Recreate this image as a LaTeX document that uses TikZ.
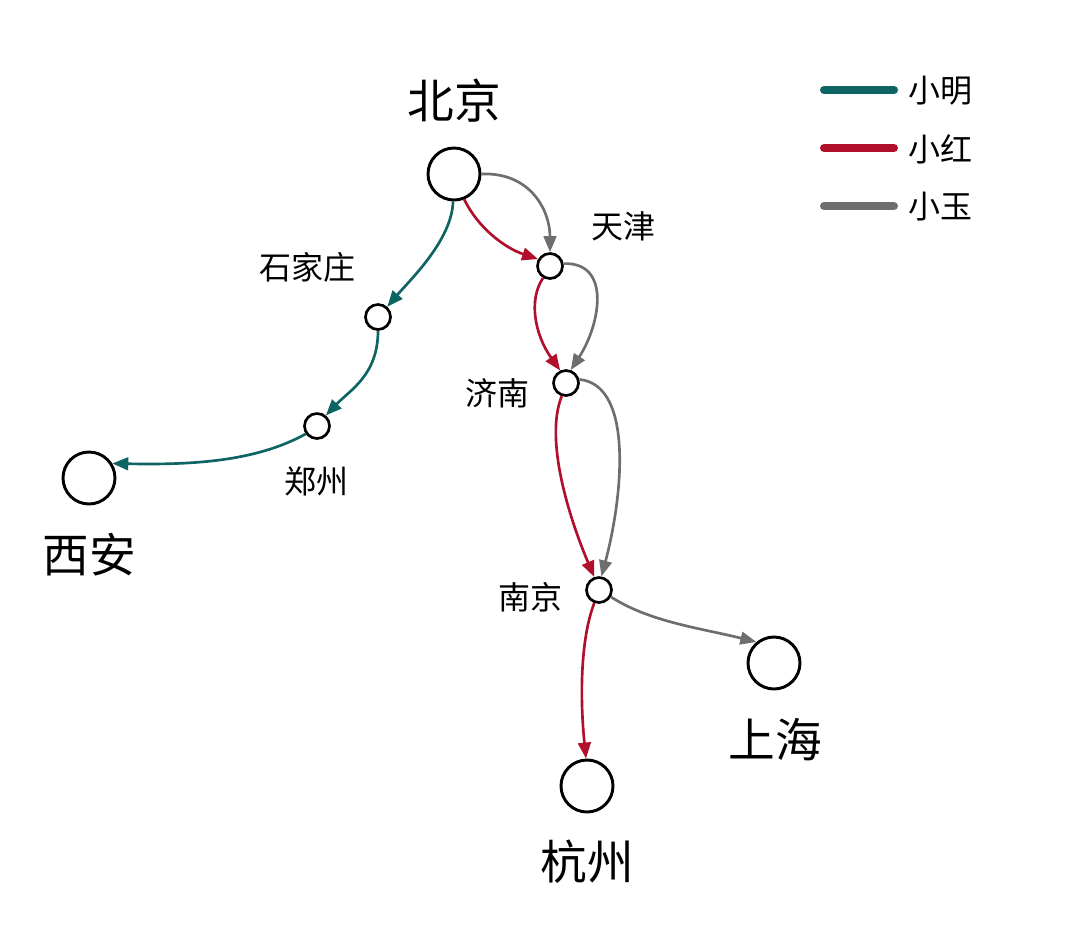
\documentclass[tikz,border=0pt]{standalone}
\usepackage{fontspec}
\newfontfamily\cjk{Noto Sans CJK SC}
\usetikzlibrary{arrows.meta}
\definecolor{cteal}{HTML}{0E6363}
\definecolor{cred}{HTML}{B0102B}
\definecolor{cgray}{HTML}{6E6E6E}
\newlength{\unitpx}
\setlength{\unitpx}{0.75pt}
\tikzset{
  bigcity/.style={circle,draw=black,line width=2.2pt,minimum size=52\unitpx,inner sep=0pt},
  smallcity/.style={circle,draw=black,line width=2pt,minimum size=25\unitpx,inner sep=0pt},
  biglabel/.style={font=\cjk\fontsize{35}{40}\selectfont,inner sep=0pt},
  smalllabel/.style={font=\cjk\fontsize{24}{28}\selectfont,inner sep=0pt},
  route/.style={line width=2pt,-{Triangle[length=12pt,width=9.5pt]}},
  legline/.style={line width=6pt,line cap=round},
}
\begin{document}
\begin{tikzpicture}[x=0.75pt,y=-0.75pt]
\useasboundingbox (0,0) rectangle (1080,929);
% cities
\node[bigcity] (bj) at (454,174) {};
\node[smallcity] (tj) at (550,266) {};
\node[smallcity] (sjz) at (378,317) {};
\node[smallcity] (zz) at (317,426) {};
\node[bigcity] (xa) at (89,478) {};
\node[smallcity] (jn) at (566,383) {};
\node[smallcity] (nj) at (599,590) {};
\node[bigcity] (sh) at (774,663) {};
\node[bigcity] (hz) at (587,786) {};
% labels
\node[biglabel] (lbj) at (454,101) {北京};
\node[smalllabel] (ltj) at (623,226) {天津};
\node[smalllabel] (lsjz) at (307,267) {石家庄};
\node[smalllabel] (lzz) at (316,481) {郑州};
\node[biglabel] (lxa) at (89,555) {西安};
\node[smalllabel] (ljn) at (497,393) {济南};
\node[smalllabel] (lnj) at (530,597) {南京};
\node[biglabel] (lsh) at (775,740) {上海};
\node[biglabel] (lhz) at (587,862) {杭州};
% teal (小明)
\draw[route,cteal] (bj.-92) .. controls (452,240) and (410,280) .. (sjz.48);
\draw[route,cteal] (sjz.-90) .. controls (378,375) and (350,390) .. (zz.50);
\draw[route,cteal] (zz.215) .. controls (255,462) and (190,465) .. (xa.32);
% red (小红)
\draw[route,cred] (bj.-68) .. controls (478,228) and (505,248) .. (tj.150);
\draw[route,cred] (tj.-120) .. controls (528,300) and (535,335) .. (jn.115);
\draw[route,cred] (jn.-108) .. controls (544,440) and (570,520) .. (nj.110);
\draw[route,cred] (nj.-110) .. controls (580,640) and (580,700) .. (hz.92);
% gray (小玉)
\draw[route,cgray] (bj.0) .. controls (530,172) and (550,210) .. (tj.90);
\draw[route,cgray] (tj.10) .. controls (612,262) and (600,325) .. (jn.70);
\draw[route,cgray] (jn.15) .. controls (635,385) and (622,500) .. (nj.80);
\draw[route,cgray] (nj.-30) .. controls (650,622) and (700,628) .. (sh.130);
% legend
\coordinate (l1a) at (824,90); \coordinate (l1b) at (894,90);
\coordinate (l2a) at (824,148); \coordinate (l2b) at (894,148);
\coordinate (l3a) at (824,206); \coordinate (l3b) at (894,206);
\draw[legline,cteal] (l1a) -- (l1b);
\draw[legline,cred] (l2a) -- (l2b);
\draw[legline,cgray] (l3a) -- (l3b);
\node[smalllabel,anchor=west] (g1) at (908,91) {小明};
\node[smalllabel,anchor=west] (g2) at (908,149) {小红};
\node[smalllabel,anchor=west] (g3) at (908,207) {小玉};
\end{tikzpicture}
\end{document}
